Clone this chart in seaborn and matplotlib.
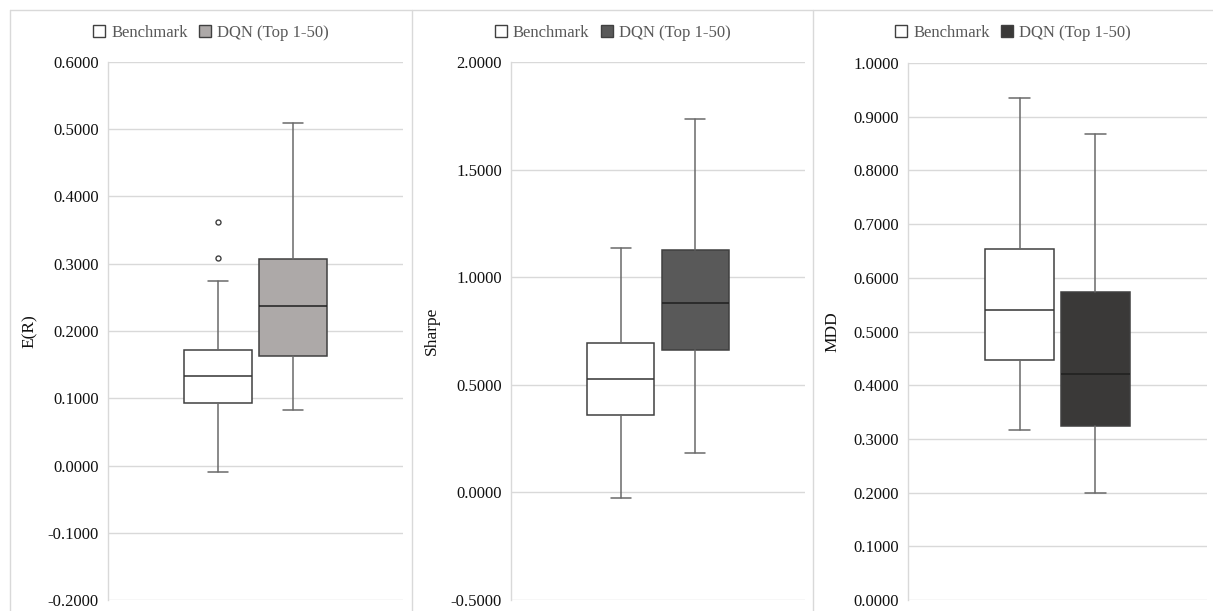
import matplotlib
matplotlib.use('Agg')
import matplotlib.pyplot as plt
from matplotlib.patches import Patch
from matplotlib.lines import Line2D
import seaborn as sns

# five-number summaries (lower whisker, Q1, median, Q3, upper whisker)
series_names = ['Benchmark', 'DQN (Top 1-50)']
metrics = ['E(R)', 'Sharpe', 'MDD']

er_benchmark = [-0.010, 0.093, 0.133, 0.172, 0.274]
er_benchmark_outliers = [0.309, 0.362]
er_dqn = [0.082, 0.163, 0.237, 0.307, 0.509]

sharpe_benchmark = [-0.025, 0.360, 0.526, 0.696, 1.137]
sharpe_dqn = [0.182, 0.662, 0.881, 1.126, 1.733]

mdd_benchmark = [0.316, 0.446, 0.540, 0.653, 0.935]
mdd_dqn = [0.200, 0.324, 0.420, 0.573, 0.867]

y_ranges = [(-0.2, 0.6, 0.1), (-0.5, 2.0, 0.5), (0.0, 1.0, 0.1)]
dqn_colors = ['#ADA9A8', '#595959', '#3A3938']


def to_stats(summary, label, outliers=()):
    lo, q1, med, q3, hi = summary
    return dict(label=label, whislo=lo, q1=q1, med=med, q3=q3, whishi=hi,
                fliers=list(outliers))


panel_data = [
    (er_benchmark, er_benchmark_outliers, er_dqn),
    (sharpe_benchmark, [], sharpe_dqn),
    (mdd_benchmark, [], mdd_dqn),
]

sns.set_theme(style='white')
plt.rcParams['font.family'] = ['Liberation Serif', 'DejaVu Serif']

W, H = 1213, 611
fig = plt.figure(figsize=(W / 100, H / 100), dpi=100)

# plot areas in pixels: (left, right, top, bottom)
areas = [(108, 403, 62, 600), (511, 805, 62, 600), (908, 1207, 63, 600)]
panel_bounds = [(10, 412), (412, 813), (813, 1213)]
label_x = [38, 440, 840]

grid_color = '#D9D9D9'
edge_color = '#404040'

for i, ax_px in enumerate(areas):
    l, r, t, b = ax_px
    ax = fig.add_axes([l / W, 1 - b / H, (r - l) / W, (b - t) / H])
    bench, outl, dqn = panel_data[i]
    stats = [to_stats(bench, series_names[0], outl), to_stats(dqn, series_names[1])]
    parts = ax.bxp(
        stats, positions=[-0.127, 0.127], widths=0.23, patch_artist=True,
        showfliers=True, capwidths=0.068,
        boxprops=dict(edgecolor=edge_color, linewidth=1.1),
        whiskerprops=dict(color='#6A6A6A', linewidth=1.1),
        capprops=dict(color='#6A6A6A', linewidth=1.1),
        medianprops=dict(color='#333333', linewidth=1.1),
        flierprops=dict(marker='o', markersize=3.6, markerfacecolor='white',
                        markeredgecolor='#404040', markeredgewidth=1.0),
    )
    parts['boxes'][0].set_facecolor('white')
    parts['boxes'][1].set_facecolor(dqn_colors[i])
    parts['medians'][1].set_color('#1F1F1F')

    lo, hi, step = y_ranges[i]
    n = int(round((hi - lo) / step))
    ticks = [lo + k * step for k in range(n + 1)]
    ax.set_ylim(lo, hi)
    ax.set_yticks(ticks)
    ax.set_yticklabels(['{:.4f}'.format(v) for v in ticks])
    ax.set_xlim(-0.5, 0.5)
    ax.set_xticks([])
    ax.yaxis.grid(True, color=grid_color, linewidth=1.0)
    ax.set_axisbelow(True)
    for side in ['top', 'right', 'bottom']:
        ax.spines[side].set_visible(False)
    ax.spines['left'].set_color(grid_color)
    ax.spines['left'].set_linewidth(1.0)
    ax.tick_params(axis='y', length=0, pad=6.5, labelsize=12, labelcolor='#111111')
    ax.set_ylabel(metrics[i], fontsize=12.5, color='#111111')
    ax.yaxis.set_label_coords((label_x[i] - l) / (r - l), 0.5)

    handles = [
        Patch(facecolor='white', edgecolor=edge_color, linewidth=1.0),
        Patch(facecolor=dqn_colors[i], edgecolor=edge_color, linewidth=1.0),
    ]
    x0, x1 = panel_bounds[i]
    leg = fig.legend(handles, series_names, loc='center',
                     bbox_to_anchor=((x0 + x1) / 2 / W, 1 - 33 / H), ncol=2,
                     frameon=False, fontsize=12, handlelength=0.72,
                     handleheight=0.72, handletextpad=0.35, columnspacing=0.7)
    for txt in leg.get_texts():
        txt.set_color('#595959')

# outer frame and panel separators
frame = dict(color=grid_color, linewidth=1.0, transform=fig.transFigure)
fig.add_artist(Line2D([10 / W, 1], [1 - 10 / H, 1 - 10 / H], **frame))
for x in [10, 412, 813]:
    fig.add_artist(Line2D([x / W, x / W], [0, 1 - 10 / H], **frame))

fig.savefig('out.png', dpi=100)
